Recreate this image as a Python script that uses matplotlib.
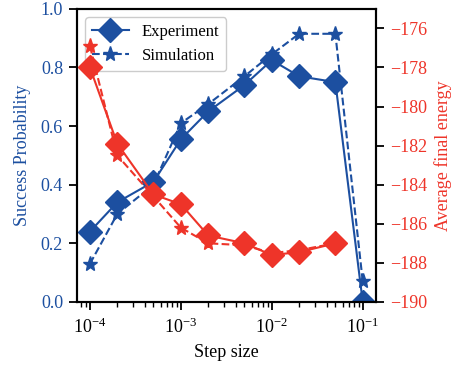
import matplotlib
matplotlib.use("Agg")
import matplotlib.pyplot as plt
import numpy as np

plt.rcParams["font.family"] = ["Liberation Serif", "DejaVu Serif"]
plt.rcParams["mathtext.fontset"] = "stix"
plt.rcParams["font.size"] = 13

blue = "#1c4fa0"
red = "#ee3429"

step_size = [1e-4, 2e-4, 5e-4, 1e-3, 2e-3, 5e-3, 1e-2, 2e-2, 5e-2, 1e-1]
prob_exp = [0.24, 0.34, 0.41, 0.555, 0.65, 0.74, 0.825, 0.77, 0.75, 0.0]
prob_sim = [0.13, 0.30, 0.40, 0.61, 0.675, 0.77, 0.845, 0.915, 0.915, 0.07]

energy_steps = [1e-4, 2e-4, 5e-4, 1e-3, 2e-3, 5e-3, 1e-2, 2e-2, 5e-2]
energy_exp = [-178.0, -181.9, -184.5, -185.0, -186.6, -187.0, -187.6, -187.45, -187.0]
energy_sim = [-176.9, -182.5, -184.6, -186.2, -187.0, -187.1, -187.5, -187.35, -187.0]

fig = plt.figure(figsize=(4.58, 3.7), dpi=100)
ax = fig.add_axes([0.168, 0.184, 0.653, 0.792])

ax.plot(step_size, prob_exp, "-", color=blue, marker="D", markersize=12, lw=1.5, label="Experiment")
ax.plot(step_size, prob_sim, "--", color=blue, marker="*", markersize=11, lw=1.5, label="Simulation")

# red curves live on the twin axis, drawn on top
ax2 = ax.twinx()
ax2.plot(energy_steps, energy_exp, "-", color=red, marker="D", markersize=12, lw=1.5)
ax2.plot(energy_steps, energy_sim, "--", color=red, marker="*", markersize=11, lw=1.5)

ax.set_xscale("log")
ax.set_xlim(7.2e-5, 1.4e-1)
ax.set_ylim(0, 1.0)
ax2.set_ylim(-190, -175)
ax2.set_yticks([-190, -188, -186, -184, -182, -180, -178, -176])
ax.set_yticks([0.0, 0.2, 0.4, 0.6, 0.8, 1.0])

ax.set_xlabel("Step size", labelpad=5)
ax.set_ylabel("Success Probability", color=blue, labelpad=7)
ax2.set_ylabel("Average final energy", color=red, labelpad=5)
ax.tick_params(axis="y", labelcolor=blue, width=1.3, length=6, pad=4)
ax2.tick_params(axis="y", labelcolor=red, width=1.3, length=6, pad=4)
ax.tick_params(axis="x", which="major", width=1.3, length=6, pad=5)
ax.tick_params(axis="x", which="minor", width=1.0, length=3.5)

for a in (ax, ax2):
    for s in a.spines.values():
        s.set_linewidth(1.5)

ax.legend(loc="upper left", fontsize=12, handlelength=2.2, framealpha=1, edgecolor="#cccccc", borderpad=0.4)

fig.savefig("out.png", dpi=100)
